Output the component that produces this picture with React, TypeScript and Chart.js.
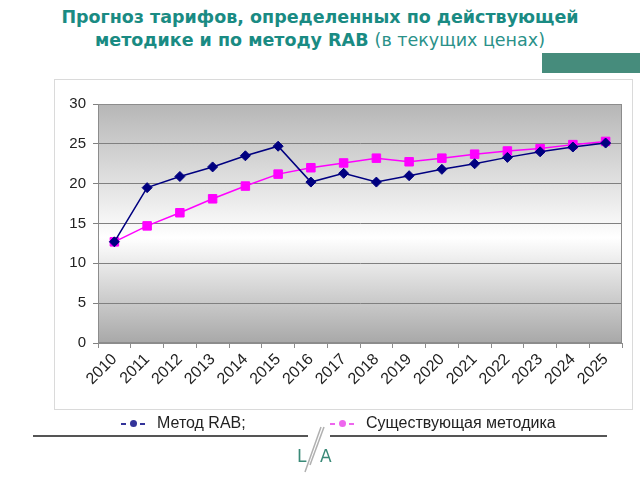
import React, { useEffect, useRef } from "react";
import { Chart, registerables } from "chart.js";

Chart.register(...registerables);

const years = ["2010", "2011", "2012", "2013", "2014", "2015", "2016", "2017", "2018", "2019", "2020", "2021", "2022", "2023", "2024", "2025"];
const rabValues = [12.7, 19.5, 20.9, 22.1, 23.5, 24.7, 20.2, 21.3, 20.2, 21.0, 21.8, 22.5, 23.3, 24.0, 24.6, 25.1];
const currentMethodValues = [12.7, 14.7, 16.35, 18.1, 19.7, 21.2, 22.0, 22.6, 23.2, 22.75, 23.2, 23.7, 24.1, 24.4, 24.9, 25.3];
const seriesNames = ["Метод RAB;", "Существующая методика"];
const yMin = 0;
const yMax = 30;
const yStep = 5;

const plotBackground = {
  id: "plotBackground",
  beforeDraw(chart: any) {
    const { ctx, chartArea: a } = chart;
    const g = ctx.createLinearGradient(0, a.top, 0, a.bottom);
    g.addColorStop(0, "#b6b6b6");
    g.addColorStop(0.56, "#ffffff");
    g.addColorStop(1, "#a8a8a8");
    ctx.save();
    ctx.fillStyle = g;
    ctx.fillRect(a.left, a.top, a.right - a.left, a.bottom - a.top);
    ctx.restore();
  },
  beforeDatasetsDraw(chart: any) {
    const { ctx, chartArea: a } = chart;
    ctx.save();
    ctx.strokeStyle = "#8c8c8c";
    ctx.lineWidth = 1;
    ctx.strokeRect(a.left + 0.5, a.top + 0.5, a.right - a.left - 1, a.bottom - a.top - 1);
    ctx.restore();
  },
};

function ChartCanvas() {
  const ref = useRef<HTMLCanvasElement | null>(null);
  useEffect(() => {
    if (!ref.current) return;
    const chart = new Chart(ref.current, {
      type: "line",
      data: {
        labels: years,
        datasets: [
          {
            label: seriesNames[0],
            data: rabValues,
            borderColor: "#000080",
            backgroundColor: "#000080",
            borderWidth: 1.5,
            pointStyle: "rectRot",
            pointRadius: 5,
            pointBorderWidth: 1,
            tension: 0,
          },
          {
            label: seriesNames[1],
            data: currentMethodValues,
            borderColor: "#ff00ff",
            backgroundColor: "#ff00ff",
            borderWidth: 1.5,
            pointStyle: "rect",
            pointRadius: 6,
            pointBorderWidth: 1,
            tension: 0,
          },
        ],
      },
      options: {
        responsive: false,
        animation: false,
        devicePixelRatio: 1,
        layout: { padding: { left: 0, top: 104, right: 18, bottom: 0 } },
        plugins: { legend: { display: false }, tooltip: { enabled: false }, title: { display: false } },
        scales: {
          x: {
            type: "category",
            offset: true,
            grid: { offset: true, drawOnChartArea: false, drawTicks: true, tickLength: 5, color: "#8c8c8c" },
            border: { color: "#8c8c8c" },
            ticks: {
              color: "#222",
              font: { family: "Liberation Sans, Arial", size: 16 },
              maxRotation: 45,
              minRotation: 45,
              autoSkip: false,
              padding: 2,
            },
            afterFit(scale: any) {
              scale.height = 137;
            },
          },
          y: {
            min: yMin,
            max: yMax,
            ticks: {
              stepSize: yStep,
              color: "#222",
              font: { family: "Liberation Sans, Arial", size: 15 },
              padding: 7,
            },
            grid: { color: "#808080", tickLength: 5, drawTicks: true },
            border: { color: "#8c8c8c" },
            afterFit(scale: any) {
              scale.width = 98;
            },
          },
        },
      },
      plugins: [plotBackground],
    });
    return () => chart.destroy();
  }, []);
  return <canvas ref={ref} width={640} height={480} style={{ position: "absolute", left: 0, top: 0, width: 640, height: 480 }} />;
}

function LegendMarker({ color }: { color: string }) {
  return (
    <span style={{ position: "relative", display: "inline-block", width: 26, height: 10, marginRight: 11, verticalAlign: "middle" }}>
      <span style={{ position: "absolute", left: 1, top: 4, width: 5, height: 2, background: color }} />
      <span style={{ position: "absolute", left: 9.5, top: 1.5, width: 7, height: 7, borderRadius: 4, background: color }} />
      <span style={{ position: "absolute", left: 20, top: 4, width: 5, height: 2, background: color }} />
    </span>
  );
}

const legendStyle: React.CSSProperties = {
  position: "absolute",
  top: 413,
  whiteSpace: "nowrap",
  fontFamily: "Liberation Sans, Arial, sans-serif",
  fontSize: 16,
  color: "#222",
  lineHeight: "20px",
};

export default function App() {
  return (
    <div style={{ position: "fixed", left: 0, top: 0, width: 640, height: 480, background: "#fff", overflow: "hidden" }}>
      <div
        style={{
          position: "absolute",
          left: 0,
          top: 6,
          width: 640,
          textAlign: "center",
          fontFamily: "DejaVu Sans, Verdana, sans-serif",
          fontWeight: "bold",
          fontSize: 17.5,
          lineHeight: "23px",
          color: "#1a8b83",
        }}
      >
        <div>Прогноз тарифов, определенных по действующей</div>
        <div>
          методике и по методу RAB <span style={{ fontWeight: "normal", color: "#2a9189" }}>(в текущих ценах)</span>
        </div>
      </div>
      <div style={{ position: "absolute", left: 542, top: 53, width: 98, height: 20, background: "#468c7c" }} />
      <div style={{ position: "absolute", left: 54, top: 79, width: 577, height: 329, border: "1px solid #dadada" }} />
      <ChartCanvas />
      <div style={{ ...legendStyle, left: 120 }}>
        <LegendMarker color="#333399" />
        <span>{seriesNames[0]}</span>
      </div>
      <div style={{ ...legendStyle, left: 329 }}>
        <LegendMarker color="#ee66ee" />
        <span>{seriesNames[1]}</span>
      </div>
      <div style={{ position: "absolute", left: 33, top: 435, width: 275, height: 1.5, background: "#555" }} />
      <div style={{ position: "absolute", left: 330, top: 435, width: 277, height: 1.5, background: "#555" }} />
      <svg width={60} height={50} style={{ position: "absolute", left: 290, top: 425 }}>
        <line x1={31} y1={2} x2={15} y2={47} stroke="#b0b0b0" strokeWidth={1.5} />
        <line x1={34} y1={2} x2={20} y2={40} stroke="#b0b0b0" strokeWidth={1.5} />
        <text x={7} y={37} fontFamily="DejaVu Sans, sans-serif" fontSize={17} fill="#3a8a78">L</text>
        <text x={30} y={37} fontFamily="DejaVu Sans, sans-serif" fontSize={17} fill="#3a8a78">A</text>
      </svg>
    </div>
  );
}
